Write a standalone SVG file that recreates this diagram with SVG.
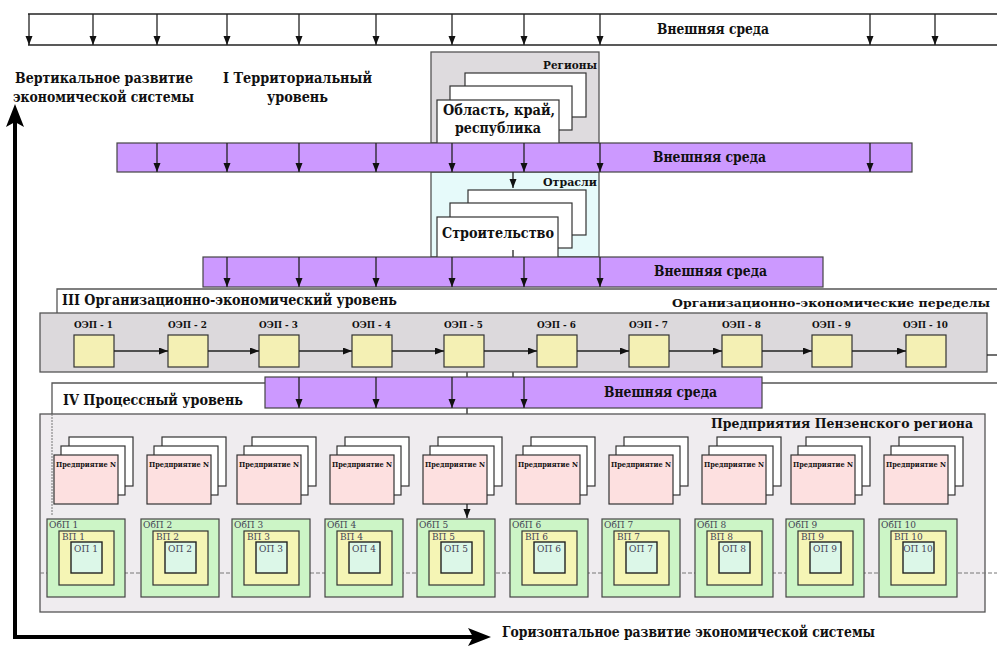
<svg xmlns="http://www.w3.org/2000/svg" width="997" height="646" viewBox="0 0 997 646">
<style>
text{font-family:'DejaVu Serif','Liberation Serif',serif;font-weight:bold;fill:#111}
.ln{stroke:#222;stroke-width:1.3;fill:none}
.bd{stroke:#555;stroke-width:1.3}
.card{fill:#fff;stroke:#333;stroke-width:1.2}
.band{fill:#cc99ff;stroke:#444;stroke-width:1.2}
.oep{fill:#f4f0b4;stroke:#333;stroke-width:1.2}
.pink{fill:#fde0e0;stroke:#333;stroke-width:1.2}
.obp{fill:#ccf5c6;stroke:#444;stroke-width:1.2}
.vp{fill:#f5f5b5;stroke:#333;stroke-width:1.2}
.op{fill:#dcf7e8;stroke:#222;stroke-width:1.4}
.t15{font-size:15px}
.t13{font-size:13px}
.t12{font-size:11px}
.t10{font-size:10px}
.s{font-weight:normal;font-size:9px;fill:#445}
.ent{font-size:8px}
</style>
<defs>
<marker id="ah" markerUnits="userSpaceOnUse" markerWidth="10" markerHeight="8" refX="9" refY="3.5" orient="auto">
<path d="M0,0 L9,3.5 L0,7 z" fill="#111"/>
</marker>
</defs>

<g id="bgLines">
<line x1="467" y1="372" x2="467" y2="435" class="ln" marker-end="url(#ah)"/>
<line x1="513" y1="372" x2="513" y2="378" class="ln"/>
</g>

<g id="topEnv">
<line x1="28" y1="14" x2="997" y2="14" class="ln"/>
<line x1="28" y1="45" x2="997" y2="45" class="ln"/>
<text x="713" y="34" class="t15" text-anchor="middle" textLength="112" lengthAdjust="spacingAndGlyphs">Внешняя среда</text>
</g>

<g id="axisLabels">
<text x="15" y="83" class="t15" textLength="178" lengthAdjust="spacingAndGlyphs">Вертикальное развитие</text>
<text x="13" y="102" class="t15" textLength="181" lengthAdjust="spacingAndGlyphs">экономической системы</text>
<text x="502" y="637" class="t15" textLength="373" lengthAdjust="spacingAndGlyphs">Горизонтальное развитие экономической системы</text>
</g>

<g id="level1">
<text x="223" y="83" class="t15" textLength="149" lengthAdjust="spacingAndGlyphs">I Территориальный</text>
<text x="267" y="102" class="t15" textLength="61" lengthAdjust="spacingAndGlyphs">уровень</text>
</g>

<g id="regions">
<rect x="431" y="52" width="168" height="91" fill="#dedbde" class="bd"/>
<rect x="465" y="73" width="121" height="44" class="card"/>
<rect x="450" y="86" width="122" height="44" class="card"/>
<rect x="437" y="100" width="122" height="45" class="card"/>
<text x="597" y="69" class="t12" text-anchor="end" textLength="54" lengthAdjust="spacingAndGlyphs">Регионы</text>
<text x="443" y="115" class="t15" textLength="112" lengthAdjust="spacingAndGlyphs">Область, край,</text>
<text x="455" y="133" class="t15" textLength="86" lengthAdjust="spacingAndGlyphs">республика</text>
</g>

<g id="branches">
<rect x="431" y="172" width="168" height="85" fill="#e6fafa" class="bd"/>
<rect x="468" y="190" width="118" height="45" class="card"/>
<rect x="450" y="203" width="122" height="45" class="card"/>
<rect x="437" y="217" width="121" height="42" class="card"/>
<text x="597" y="186" class="t12" text-anchor="end" textLength="54" lengthAdjust="spacingAndGlyphs">Отрасли</text>
<text x="442" y="238" class="t15" textLength="112" lengthAdjust="spacingAndGlyphs">Строительство</text>
<line x1="513" y1="250" x2="513" y2="257" class="ln"/>
</g>

<g id="env1">
<rect x="117" y="143" width="795" height="29" class="band"/>
<text x="653" y="162" class="t15" textLength="113" lengthAdjust="spacingAndGlyphs">Внешняя среда</text>
</g>

<g id="env2">
<rect x="203" y="257" width="620" height="30" class="band"/>
<text x="654" y="276" class="t15" textLength="113" lengthAdjust="spacingAndGlyphs">Внешняя среда</text>
</g>

<g id="level3">
<path d="M57,314 V289 H997" class="bd" fill="none"/>
<text x="62" y="305" class="t15" textLength="335" lengthAdjust="spacingAndGlyphs">III Организационно-экономический уровень</text>
<text x="990" y="307" font-size="11.5" text-anchor="end" textLength="318" lengthAdjust="spacingAndGlyphs">Организационно-экономические переделы</text>
</g>

<g id="oepBand">
<rect x="40" y="313" width="947" height="59" fill="#dcd9dc" class="bd"/>
<line x1="987" y1="355" x2="997" y2="355" class="ln"/>
</g>

<g id="oep1"><rect x="74" y="335" width="40" height="32" class="oep"/><text x="74" y="328" class="t10" textLength="39" lengthAdjust="spacingAndGlyphs">ОЭП - 1</text></g>
<g id="oep2"><rect x="168" y="335" width="40" height="32" class="oep"/><text x="168" y="328" class="t10" textLength="39" lengthAdjust="spacingAndGlyphs">ОЭП - 2</text></g>
<g id="oep3"><rect x="259" y="335" width="40" height="32" class="oep"/><text x="259" y="328" class="t10" textLength="39" lengthAdjust="spacingAndGlyphs">ОЭП - 3</text></g>
<g id="oep4"><rect x="352" y="335" width="40" height="32" class="oep"/><text x="352" y="328" class="t10" textLength="39" lengthAdjust="spacingAndGlyphs">ОЭП - 4</text></g>
<g id="oep5"><rect x="444" y="335" width="40" height="32" class="oep"/><text x="444" y="328" class="t10" textLength="39" lengthAdjust="spacingAndGlyphs">ОЭП - 5</text></g>
<g id="oep6"><rect x="537" y="335" width="40" height="32" class="oep"/><text x="537" y="328" class="t10" textLength="39" lengthAdjust="spacingAndGlyphs">ОЭП - 6</text></g>
<g id="oep7"><rect x="629" y="335" width="40" height="32" class="oep"/><text x="629" y="328" class="t10" textLength="39" lengthAdjust="spacingAndGlyphs">ОЭП - 7</text></g>
<g id="oep8"><rect x="722" y="335" width="40" height="32" class="oep"/><text x="722" y="328" class="t10" textLength="39" lengthAdjust="spacingAndGlyphs">ОЭП - 8</text></g>
<g id="oep9"><rect x="812" y="335" width="40" height="32" class="oep"/><text x="812" y="328" class="t10" textLength="39" lengthAdjust="spacingAndGlyphs">ОЭП - 9</text></g>
<g id="oep10"><rect x="906" y="335" width="40" height="32" class="oep"/><text x="903" y="328" class="t10" textLength="45" lengthAdjust="spacingAndGlyphs">ОЭП - 10</text></g>

<g id="level4">
<path d="M52,414 V383 H997" class="bd" fill="none"/>
<text x="63" y="405" class="t15" textLength="180" lengthAdjust="spacingAndGlyphs">IV Процессный уровень</text>
</g>

<g id="env3">
<rect x="265" y="377" width="497" height="31" class="band"/>
<text x="604" y="397" class="t15" textLength="113" lengthAdjust="spacingAndGlyphs">Внешняя среда</text>
</g>

<g id="enterprises">
<rect x="40" y="414" width="945" height="198" fill="#efecef" class="bd"/>
<line x1="52" y1="414" x2="52" y2="515" stroke="#777" stroke-width="1" stroke-dasharray="2 1"/>
<line x1="40" y1="573" x2="997" y2="573" stroke="#777" stroke-width="1" stroke-dasharray="4 2"/>
<text x="973" y="428" class="t13" text-anchor="end" textLength="262" lengthAdjust="spacingAndGlyphs">Предприятия Пензенского региона</text>
</g>

<g id="ent1"><rect x="69" y="437" width="64" height="49" class="card"/><rect x="61" y="446" width="64" height="49" class="card"/><rect x="54" y="455" width="64" height="49" class="pink"/><text x="56" y="467" class="ent" textLength="60" lengthAdjust="spacingAndGlyphs">Предприятие N</text></g>
<g id="ent2"><rect x="162" y="437" width="64" height="49" class="card"/><rect x="154" y="446" width="64" height="49" class="card"/><rect x="147" y="455" width="64" height="49" class="pink"/><text x="149" y="467" class="ent" textLength="60" lengthAdjust="spacingAndGlyphs">Предприятие N</text></g>
<g id="ent3"><rect x="252" y="437" width="64" height="49" class="card"/><rect x="244" y="446" width="64" height="49" class="card"/><rect x="237" y="455" width="64" height="49" class="pink"/><text x="239" y="467" class="ent" textLength="60" lengthAdjust="spacingAndGlyphs">Предприятие N</text></g>
<g id="ent4"><rect x="345" y="437" width="64" height="49" class="card"/><rect x="337" y="446" width="64" height="49" class="card"/><rect x="330" y="455" width="64" height="49" class="pink"/><text x="332" y="467" class="ent" textLength="60" lengthAdjust="spacingAndGlyphs">Предприятие N</text></g>
<g id="ent5"><rect x="438" y="437" width="64" height="49" class="card"/><rect x="430" y="446" width="64" height="49" class="card"/><rect x="423" y="455" width="64" height="49" class="pink"/><text x="425" y="467" class="ent" textLength="60" lengthAdjust="spacingAndGlyphs">Предприятие N</text></g>
<g id="ent6"><rect x="531" y="437" width="64" height="49" class="card"/><rect x="523" y="446" width="64" height="49" class="card"/><rect x="516" y="455" width="64" height="49" class="pink"/><text x="518" y="467" class="ent" textLength="60" lengthAdjust="spacingAndGlyphs">Предприятие N</text></g>
<g id="ent7"><rect x="624" y="437" width="64" height="49" class="card"/><rect x="616" y="446" width="64" height="49" class="card"/><rect x="609" y="455" width="64" height="49" class="pink"/><text x="611" y="467" class="ent" textLength="60" lengthAdjust="spacingAndGlyphs">Предприятие N</text></g>
<g id="ent8"><rect x="717" y="437" width="64" height="49" class="card"/><rect x="709" y="446" width="64" height="49" class="card"/><rect x="702" y="455" width="64" height="49" class="pink"/><text x="704" y="467" class="ent" textLength="60" lengthAdjust="spacingAndGlyphs">Предприятие N</text></g>
<g id="ent9"><rect x="806" y="437" width="64" height="49" class="card"/><rect x="798" y="446" width="64" height="49" class="card"/><rect x="791" y="455" width="64" height="49" class="pink"/><text x="793" y="467" class="ent" textLength="60" lengthAdjust="spacingAndGlyphs">Предприятие N</text></g>
<g id="ent10"><rect x="899" y="437" width="64" height="49" class="card"/><rect x="891" y="446" width="64" height="49" class="card"/><rect x="884" y="455" width="64" height="49" class="pink"/><text x="886" y="467" class="ent" textLength="60" lengthAdjust="spacingAndGlyphs">Предприятие N</text></g>

<g id="proc1"><rect x="47" y="519" width="78" height="78" class="obp"/><rect x="59" y="531" width="55" height="54" class="vp"/><rect x="71" y="542" width="31" height="31" class="op"/><text x="49" y="528" class="s">ОбП 1</text><text x="62" y="540" class="s">ВП 1</text><text x="86" y="552" class="s" text-anchor="middle">ОП 1</text></g>
<g id="proc2"><rect x="141" y="519" width="78" height="78" class="obp"/><rect x="153" y="531" width="55" height="54" class="vp"/><rect x="165" y="542" width="31" height="31" class="op"/><text x="143" y="528" class="s">ОбП 2</text><text x="156" y="540" class="s">ВП 2</text><text x="180" y="552" class="s" text-anchor="middle">ОП 2</text></g>
<g id="proc3"><rect x="232" y="519" width="78" height="78" class="obp"/><rect x="244" y="531" width="55" height="54" class="vp"/><rect x="256" y="542" width="31" height="31" class="op"/><text x="234" y="528" class="s">ОбП 3</text><text x="247" y="540" class="s">ВП 3</text><text x="271" y="552" class="s" text-anchor="middle">ОП 3</text></g>
<g id="proc4"><rect x="325" y="519" width="78" height="78" class="obp"/><rect x="337" y="531" width="55" height="54" class="vp"/><rect x="349" y="542" width="31" height="31" class="op"/><text x="327" y="528" class="s">ОбП 4</text><text x="340" y="540" class="s">ВП 4</text><text x="364" y="552" class="s" text-anchor="middle">ОП 4</text></g>
<g id="proc5"><rect x="417" y="519" width="78" height="78" class="obp"/><rect x="429" y="531" width="55" height="54" class="vp"/><rect x="441" y="542" width="31" height="31" class="op"/><text x="419" y="528" class="s">ОбП 5</text><text x="432" y="540" class="s">ВП 5</text><text x="456" y="552" class="s" text-anchor="middle">ОП 5</text></g>
<g id="proc6"><rect x="510" y="519" width="78" height="78" class="obp"/><rect x="522" y="531" width="55" height="54" class="vp"/><rect x="534" y="542" width="31" height="31" class="op"/><text x="512" y="528" class="s">ОбП 6</text><text x="525" y="540" class="s">ВП 6</text><text x="549" y="552" class="s" text-anchor="middle">ОП 6</text></g>
<g id="proc7"><rect x="602" y="519" width="78" height="78" class="obp"/><rect x="614" y="531" width="55" height="54" class="vp"/><rect x="626" y="542" width="31" height="31" class="op"/><text x="604" y="528" class="s">ОбП 7</text><text x="617" y="540" class="s">ВП 7</text><text x="641" y="552" class="s" text-anchor="middle">ОП 7</text></g>
<g id="proc8"><rect x="695" y="519" width="78" height="78" class="obp"/><rect x="707" y="531" width="55" height="54" class="vp"/><rect x="719" y="542" width="31" height="31" class="op"/><text x="697" y="528" class="s">ОбП 8</text><text x="710" y="540" class="s">ВП 8</text><text x="734" y="552" class="s" text-anchor="middle">ОП 8</text></g>
<g id="proc9"><rect x="786" y="519" width="78" height="78" class="obp"/><rect x="798" y="531" width="55" height="54" class="vp"/><rect x="810" y="542" width="31" height="31" class="op"/><text x="788" y="528" class="s">ОбП 9</text><text x="801" y="540" class="s">ВП 9</text><text x="825" y="552" class="s" text-anchor="middle">ОП 9</text></g>
<g id="proc10"><rect x="879" y="519" width="78" height="78" class="obp"/><rect x="891" y="531" width="55" height="54" class="vp"/><rect x="903" y="542" width="31" height="31" class="op"/><text x="881" y="528" class="s">ОбП 10</text><text x="894" y="540" class="s">ВП 10</text><text x="918" y="552" class="s" text-anchor="middle">ОП 10</text></g>

<g id="connectors">
<line x1="29" y1="14" x2="29" y2="45" class="ln" marker-end="url(#ah)"/>
<line x1="93" y1="14" x2="93" y2="45" class="ln" marker-end="url(#ah)"/>
<line x1="157" y1="14" x2="157" y2="45" class="ln" marker-end="url(#ah)"/>
<line x1="227" y1="14" x2="227" y2="45" class="ln" marker-end="url(#ah)"/>
<line x1="299" y1="14" x2="299" y2="45" class="ln" marker-end="url(#ah)"/>
<line x1="376" y1="14" x2="376" y2="45" class="ln" marker-end="url(#ah)"/>
<line x1="452" y1="14" x2="452" y2="45" class="ln" marker-end="url(#ah)"/>
<line x1="524" y1="14" x2="524" y2="45" class="ln" marker-end="url(#ah)"/>
<line x1="600" y1="14" x2="600" y2="45" class="ln" marker-end="url(#ah)"/>
<line x1="870" y1="14" x2="870" y2="45" class="ln" marker-end="url(#ah)"/>
<line x1="935" y1="14" x2="935" y2="45" class="ln" marker-end="url(#ah)"/>
<line x1="157" y1="143" x2="157" y2="172" class="ln" marker-end="url(#ah)"/>
<line x1="227" y1="143" x2="227" y2="172" class="ln" marker-end="url(#ah)"/>
<line x1="299" y1="143" x2="299" y2="172" class="ln" marker-end="url(#ah)"/>
<line x1="376" y1="143" x2="376" y2="172" class="ln" marker-end="url(#ah)"/>
<line x1="452" y1="143" x2="452" y2="172" class="ln" marker-end="url(#ah)"/>
<line x1="524" y1="143" x2="524" y2="172" class="ln" marker-end="url(#ah)"/>
<line x1="600" y1="143" x2="600" y2="172" class="ln" marker-end="url(#ah)"/>
<line x1="870" y1="143" x2="870" y2="172" class="ln" marker-end="url(#ah)"/>
<line x1="513" y1="172" x2="513" y2="188" class="ln" marker-end="url(#ah)"/>
<line x1="227" y1="257" x2="227" y2="287" class="ln" marker-end="url(#ah)"/>
<line x1="299" y1="257" x2="299" y2="287" class="ln" marker-end="url(#ah)"/>
<line x1="376" y1="257" x2="376" y2="287" class="ln" marker-end="url(#ah)"/>
<line x1="452" y1="257" x2="452" y2="287" class="ln" marker-end="url(#ah)"/>
<line x1="524" y1="257" x2="524" y2="287" class="ln" marker-end="url(#ah)"/>
<line x1="600" y1="257" x2="600" y2="287" class="ln" marker-end="url(#ah)"/>
<line x1="114" y1="351" x2="168" y2="351" class="ln" marker-end="url(#ah)"/>
<line x1="208" y1="351" x2="259" y2="351" class="ln" marker-end="url(#ah)"/>
<line x1="299" y1="351" x2="352" y2="351" class="ln" marker-end="url(#ah)"/>
<line x1="392" y1="351" x2="444" y2="351" class="ln" marker-end="url(#ah)"/>
<line x1="484" y1="351" x2="537" y2="351" class="ln" marker-end="url(#ah)"/>
<line x1="577" y1="351" x2="629" y2="351" class="ln" marker-end="url(#ah)"/>
<line x1="669" y1="351" x2="722" y2="351" class="ln" marker-end="url(#ah)"/>
<line x1="762" y1="351" x2="812" y2="351" class="ln" marker-end="url(#ah)"/>
<line x1="852" y1="351" x2="906" y2="351" class="ln" marker-end="url(#ah)"/>
<line x1="299" y1="377" x2="299" y2="408" class="ln" marker-end="url(#ah)"/>
<line x1="376" y1="377" x2="376" y2="408" class="ln" marker-end="url(#ah)"/>
<line x1="452" y1="377" x2="452" y2="408" class="ln" marker-end="url(#ah)"/>
<line x1="524" y1="377" x2="524" y2="408" class="ln" marker-end="url(#ah)"/>
<line x1="467" y1="504" x2="467" y2="518" class="ln" marker-end="url(#ah)"/>
<path d="M15,122 V637 H476" fill="none" stroke="#000" stroke-width="4"/>
<path d="M15,104 L24,127 L15,122 L6,127 z" fill="#000"/>
<path d="M491,637 L468,628 L473,637 L468,646 z" fill="#000"/>
</g>
</svg>
